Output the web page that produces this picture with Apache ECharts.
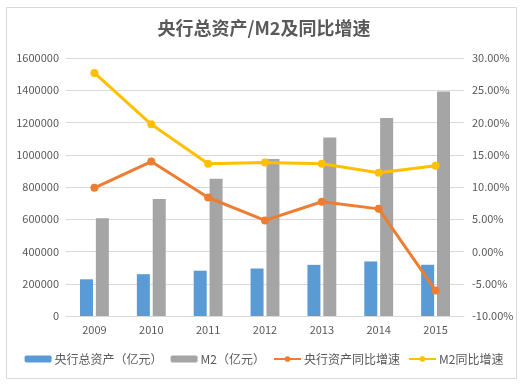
<!DOCTYPE html>
<html><head><meta charset="utf-8">
<script src="https://cdn.jsdelivr.net/npm/echarts@6/dist/echarts.min.js"></script>
<style>html,body{margin:0;padding:0;background:#fff}#c{width:528px;height:384px}</style>
</head><body><div id="c"></div>
<script>
const categories = ['2009','2010','2011','2012','2013','2014','2015'];
const pbocAssets = [227535, 259275, 280978, 294537, 317278, 338248, 317837];
const m2 = [606225, 725852, 851591, 974149, 1106525, 1228375, 1392278];
const pbocGrowth = [9.87, 13.95, 8.37, 4.82, 7.72, 6.61, -6.03];
const m2Growth = [27.68, 19.72, 13.60, 13.80, 13.60, 12.20, 13.30];
const leftTicks = {min: 0, max: 1600000, interval: 200000};
const rightTicks = {min: -10, max: 30, interval: 5};

const font = '"Noto Sans CJK SC", "Noto Sans", sans-serif';
const txt = '#595959';
const chart = echarts.init(document.getElementById('c'), null, {renderer: 'canvas'});
chart.setOption({
  animation: false,
  textStyle: {fontFamily: font},
  graphic: [{type: 'rect', shape: {x: 6.5, y: 7.5, width: 510, height: 371}, style: {fill: 'none', stroke: '#d9d9d9', lineWidth: 1}, silent: true}],
  title: {text: '央行总资产/M2及同比增速', left: 'center', top: 14, textStyle: {fontSize: 18, fontWeight: 'bold', color: txt, fontFamily: font}},
  legend: {
    bottom: 14, left: 'center', itemGap: 8, itemWidth: 27, itemHeight: 7,
    textStyle: {fontSize: 12, color: txt, fontFamily: font, padding: [0, 0, 0, -2]},
    data: ['央行总资产（亿元）', 'M2（亿元）', '央行资产同比增速', 'M2同比增速']
  },
  grid: {left: 66, right: 64, top: 58, bottom: 68, containLabel: false},
  xAxis: {
    type: 'category', data: categories,
    axisLine: {lineStyle: {color: '#d9d9d9'}}, axisTick: {show: false},
    axisLabel: {color: txt, fontSize: 11, margin: 8}
  },
  yAxis: [
    {type: 'value', min: leftTicks.min, max: leftTicks.max, interval: leftTicks.interval,
     axisLine: {show: false}, axisTick: {show: false},
     splitLine: {lineStyle: {color: '#d9d9d9'}},
     axisLabel: {color: txt, fontSize: 11, margin: 7, formatter: v => String(v)}},
    {type: 'value', min: rightTicks.min, max: rightTicks.max, interval: rightTicks.interval,
     axisLine: {show: false}, axisTick: {show: false}, splitLine: {show: false},
     axisLabel: {color: txt, fontSize: 11, margin: 8, formatter: v => v.toFixed(2) + '%'}}
  ],
  series: [
    {name: '央行总资产（亿元）', type: 'bar', data: pbocAssets, barWidth: 13, barGap: '22%', itemStyle: {color: '#5B9BD5'}},
    {name: 'M2（亿元）', type: 'bar', data: m2, barWidth: 13, barGap: '22%', itemStyle: {color: '#A5A5A5'}},
    {name: '央行资产同比增速', type: 'line', yAxisIndex: 1, data: pbocGrowth, symbol: 'circle', symbolSize: 8,
     lineStyle: {color: '#ED7D31', width: 3}, itemStyle: {color: '#ED7D31'}},
    {name: 'M2同比增速', type: 'line', yAxisIndex: 1, data: m2Growth, symbol: 'circle', symbolSize: 8,
     lineStyle: {color: '#FFC000', width: 3}, itemStyle: {color: '#FFC000'}}
  ]
});
</script></body></html>
